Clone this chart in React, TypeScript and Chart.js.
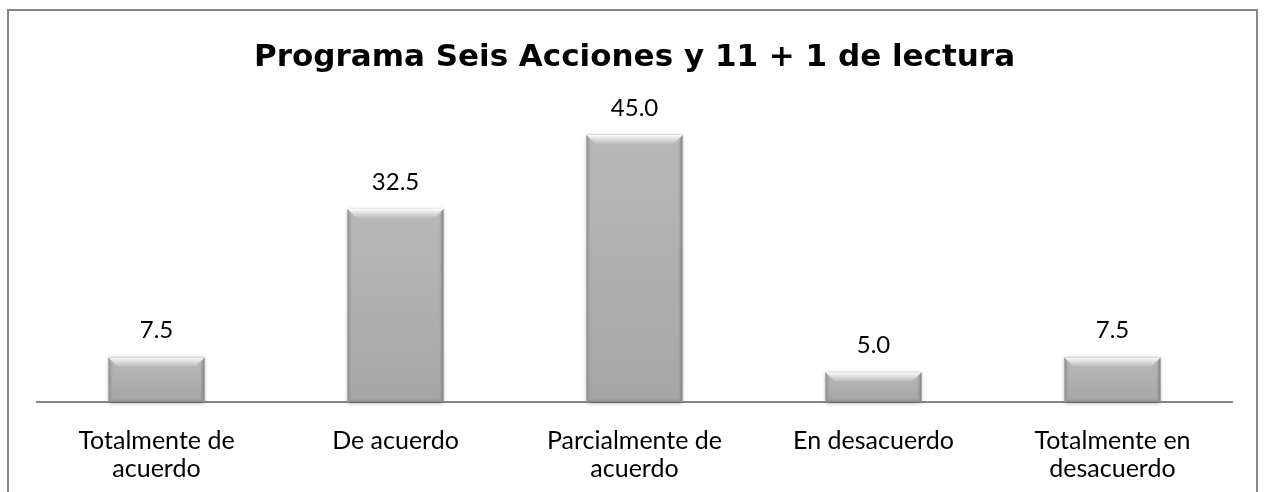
import React, { useEffect, useRef } from "react";
import { Chart, registerables } from "chart.js";
Chart.register(...registerables);

const TITLE = "Programa Seis Acciones y 11 + 1 de lectura";
const categories: string[][] = [
  ["Totalmente de", "acuerdo"],
  ["De acuerdo"],
  ["Parcialmente de", "acuerdo"],
  ["En desacuerdo"],
  ["Totalmente en", "desacuerdo"],
];
const values: number[] = [7.5, 32.5, 45.0, 5.0, 7.5];
const Y_MAX = 50;

const LABEL_FONT = "Lato";

const bevelPlugin = {
  id: "bevelBars",
  beforeDatasetsDraw(chart: any) {
    const ctx = chart.ctx;
    const meta = chart.getDatasetMeta(0);
    ctx.save();
    ctx.shadowColor = "rgba(0,0,0,0.35)";
    ctx.shadowBlur = 4;
    ctx.shadowOffsetY = 1;
    ctx.fillStyle = "#ababab";
    meta.data.forEach((el: any) => {
      const { x, y, base, width } = el.getProps(["x", "y", "base", "width"], true);
      ctx.fillRect(x - width / 2, y, width, base - y);
    });
    ctx.restore();
  },
  afterDatasetsDraw(chart: any) {
    const ctx = chart.ctx;
    const meta = chart.getDatasetMeta(0);
    ctx.save();
    meta.data.forEach((el: any, i: number) => {
      const { x, y, base, width } = el.getProps(["x", "y", "base", "width"], true);
      const L = x - width / 2;
      const R = x + width / 2;
      const T = y;
      const B = base;
      const b = Math.min(9, (B - T) / 2);
      const face = ctx.createLinearGradient(0, T, 0, B);
      face.addColorStop(0, "#b8b8b8");
      face.addColorStop(1, "#a6a6a6");
      ctx.fillStyle = face;
      ctx.fillRect(L, T, width, B - T);
      const lg = ctx.createLinearGradient(L, 0, L + 5, 0);
      lg.addColorStop(0, "#8a8a8a");
      lg.addColorStop(1, "rgba(170,170,170,0)");
      ctx.fillStyle = lg;
      ctx.beginPath();
      ctx.moveTo(L, T);
      ctx.lineTo(L + 5, T + b);
      ctx.lineTo(L + 5, B - 3);
      ctx.lineTo(L, B);
      ctx.closePath();
      ctx.fill();
      const rg = ctx.createLinearGradient(R - 5, 0, R, 0);
      rg.addColorStop(0, "rgba(170,170,170,0)");
      rg.addColorStop(1, "#7c7c7c");
      ctx.fillStyle = rg;
      ctx.beginPath();
      ctx.moveTo(R, T);
      ctx.lineTo(R - 5, T + b);
      ctx.lineTo(R - 5, B - 3);
      ctx.lineTo(R, B);
      ctx.closePath();
      ctx.fill();
      const bg = ctx.createLinearGradient(0, B - 4, 0, B);
      bg.addColorStop(0, "rgba(160,160,160,0)");
      bg.addColorStop(1, "#858585");
      ctx.fillStyle = bg;
      ctx.beginPath();
      ctx.moveTo(L, B);
      ctx.lineTo(L + 4, B - 4);
      ctx.lineTo(R - 4, B - 4);
      ctx.lineTo(R, B);
      ctx.closePath();
      ctx.fill();
      const tg = ctx.createLinearGradient(0, T, 0, T + b);
      tg.addColorStop(0, "#fbfbfb");
      tg.addColorStop(1, "#bdbdbd");
      ctx.fillStyle = tg;
      ctx.beginPath();
      ctx.moveTo(L, T);
      ctx.lineTo(R, T);
      ctx.lineTo(R - b, T + b);
      ctx.lineTo(L + b, T + b);
      ctx.closePath();
      ctx.fill();
      ctx.fillStyle = "#000000";
      ctx.font = `24px ${LABEL_FONT}`;
      ctx.textAlign = "center";
      ctx.textBaseline = "alphabetic";
      ctx.fillText(values[i].toFixed(1), x, T - 19);
    });
    ctx.restore();
  },
};

const CANVAS_W = 1264;
const CANVAS_H = 519;

export default function App() {
  const ref = useRef<HTMLCanvasElement | null>(null);
  useEffect(() => {
    if (!ref.current) return;
    const chart = new Chart(ref.current, {
      type: "bar",
      data: {
        labels: categories,
        datasets: [
          {
            data: values,
            backgroundColor: "#ababab",
            borderWidth: 0,
            barPercentage: 0.4,
            categoryPercentage: 1,
          },
        ],
      },
      options: {
        animation: false,
        responsive: false,
        maintainAspectRatio: false,
        devicePixelRatio: 1,
        layout: { padding: { left: 37, right: 32, top: 39, bottom: 11 } },
        plugins: {
          legend: { display: false },
          tooltip: { enabled: false },
          title: {
            display: true,
            text: TITLE,
            color: "#000000",
            font: { family: "DejaVu Sans", size: 31, weight: "bold", lineHeight: 1.2 },
            padding: { top: 0, bottom: 29 },
          },
        },
        scales: {
          x: {
            grid: { display: false, drawTicks: false },
            border: { display: true, color: "#868686", width: 2 },
            ticks: {
              color: "#000000",
              font: { family: LABEL_FONT, size: 25, lineHeight: "28px" },
              padding: 25,
              maxRotation: 0,
              minRotation: 0,
              autoSkip: false,
            },
          },
          y: {
            display: false,
            min: 0,
            max: Y_MAX,
          },
        },
      },
      plugins: [bevelPlugin],
    });
    return () => chart.destroy();
  }, []);
  return (
    <div>
      <canvas
        ref={ref}
        width={CANVAS_W}
        height={CANVAS_H}
        style={{ position: "fixed", left: 0, top: 0, width: CANVAS_W, height: CANVAS_H, background: "#ffffff" }}
      />
      <div
        style={{
          position: "fixed",
          left: 7,
          top: 9,
          width: 1251,
          height: 600,
          border: "2px solid #878787",
          boxSizing: "border-box",
          pointerEvents: "none",
        }}
      />
    </div>
  );
}
